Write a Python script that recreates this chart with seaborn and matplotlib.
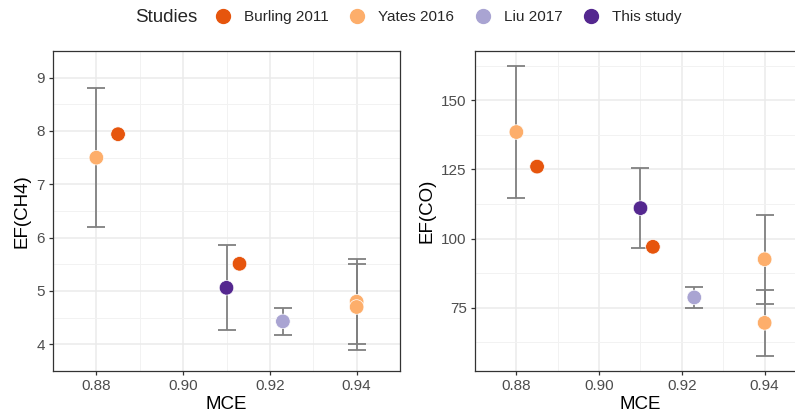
import numpy as np
import pandas as pd
import matplotlib
matplotlib.use("Agg")
import matplotlib.pyplot as plt
import seaborn as sns
from matplotlib.lines import Line2D

# data
studies = ["Yates 2016", "Burling 2011", "This study", "Burling 2011", "Liu 2017", "Yates 2016", "Yates 2016"]
mce = [0.88, 0.885, 0.91, 0.913, 0.923, 0.94, 0.94]

ef_ch4 = [7.5, 7.94, 5.06, 5.51, 4.43, 4.8, 4.7]
ch4_err = [1.3, np.nan, 0.8, np.nan, 0.25, 0.8, 0.8]

ef_co = [138.5, 126.0, 111.0, 97.0, 78.7, 92.5, 69.5]
co_err = [24.0, np.nan, 14.6, np.nan, 3.8, 16.0, 12.0]

legend_order = ["Burling 2011", "Yates 2016", "Liu 2017", "This study"]
colors = {"Burling 2011": "#E6550D", "Yates 2016": "#FDAE6B",
          "Liu 2017": "#A9A4D2", "This study": "#54278F"}

df = pd.DataFrame({"study": studies, "MCE": mce, "CH4": ef_ch4, "CH4_err": ch4_err,
                   "CO": ef_co, "CO_err": co_err})

sns.set_theme(style="whitegrid")
plt.rcParams['font.family'] = ['Liberation Sans', 'DejaVu Sans']

fig = plt.figure(figsize=(7.95, 4.16), dpi=100)
W, H = 795, 416
# right panel runs past the picture edge, as in the reference
ax1 = fig.add_axes([53 / W, 1 - 371 / H, 347 / W, 320 / H])
ax2 = fig.add_axes([475 / W, 1 - 371 / H, 331 / W, 320 / H])

panels = [(ax1, "CH4", "CH4_err", "EF(CH4)", (3.655, 9.045), [4, 5, 6, 7, 8, 9], np.arange(3.5, 9.6, 0.5)),
          (ax2, "CO", "CO_err", "EF(CO)", (52.1, 167.8), [75, 100, 125, 150], np.arange(62.5, 175, 12.5))]

for ax, col, ecol, ylab, ylim, yt, ymin in panels:
    ax.set_facecolor("white")
    sub = df.dropna(subset=[ecol])
    ax.errorbar(sub["MCE"], sub[col], yerr=sub[ecol], fmt="none", ecolor="#808080",
                elinewidth=1.3, capsize=6.5, capthick=1.3, zorder=2)
    sns.scatterplot(data=df, x="MCE", y=col, hue="study", palette=colors, s=110,
                    edgecolor="white", linewidth=0.5, legend=False, ax=ax, zorder=3)
    ax.set_xlim(0.8755, 0.9448)
    ax.set_ylim(*ylim)
    ax.set_xticks([0.88, 0.90, 0.92, 0.94])
    ax.set_xticklabels(["0.88", "0.90", "0.92", "0.94"])
    ax.set_xticks(np.arange(0.87, 0.951, 0.01), minor=True)
    ax.set_yticks(yt)
    ax.set_yticks(ymin, minor=True)
    ax.grid(which="major", color="#EBEBEB", linewidth=1.1)
    ax.grid(which="minor", color="#F2F2F2", linewidth=0.7)
    ax.set_axisbelow(True)
    for s in ax.spines.values():
        s.set_color("#333333")
        s.set_linewidth(0.9)
    ax.tick_params(axis="both", which="major", length=3, width=0.9, color="#333333",
                   labelsize=11, labelcolor="#4D4D4D", pad=3, left=True, bottom=True)
    ax.tick_params(which="minor", length=0)
    ax.set_xlabel("MCE", fontsize=13.5, color="black", labelpad=2)
    ax.set_ylabel(ylab, fontsize=13.5, color="black", labelpad=4)

# legend on one line: title on the left, then the four studies
fig.text(135 / W, 1 - 17 / H, "Studies", fontsize=13.5, ha="left", va="center")
handles = [Line2D([], [], marker="o", linestyle="", markersize=10,
                  markerfacecolor=colors[k], markeredgecolor=colors[k]) for k in legend_order]
fig.legend(handles, legend_order, loc="center left", bbox_to_anchor=(215 / W, 1 - 17 / H),
           ncol=4, frameon=False, fontsize=11, handlelength=1.0, handletextpad=0.9,
           columnspacing=1.35, borderpad=0, borderaxespad=0)
fig.savefig("out.png", dpi=100)
